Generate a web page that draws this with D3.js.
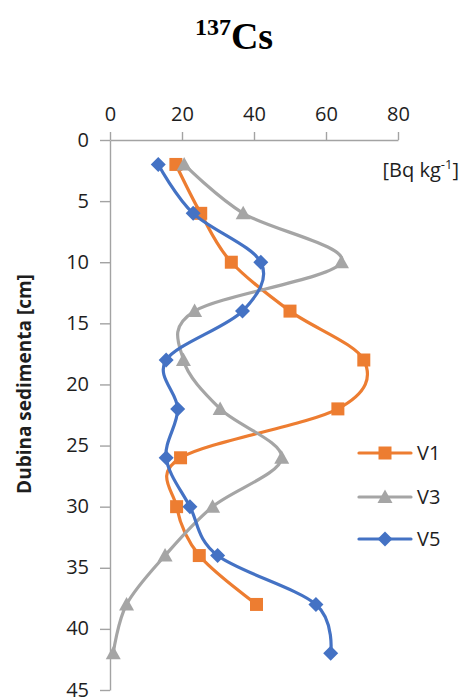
<!DOCTYPE html>
<html><head><meta charset="utf-8">
<script src="https://cdn.jsdelivr.net/npm/d3@7/dist/d3.min.js"></script>
<style>
html,body{margin:0;padding:0;background:#fff;}
svg{display:block;}
</style></head>
<body><svg id="chart" width="462" height="698"></svg>
<script>
const depths = [2, 6, 10, 14, 18, 22, 26, 30, 34, 38, 42];
const v1 = [18.3, 25.2, 33.7, 50, 70.5, 63.3, 19.6, 18.5, 24.8, 40.7, null];
const v3 = [20.6, 37, 64.3, 23.5, 20.4, 30.6, 47.7, 28.5, 15.3, 4.6, 0.9];
const v5 = [13.4, 23.1, 41.9, 36.8, 15.6, 18.8, 15.6, 22.2, 29.9, 57.2, 61.3];
const seriesNames = ["V1", "V3", "V5"];
const seriesColors = ["#ED7D31", "#A5A5A5", "#4472C4"];
const seriesMarkers = ["square", "triangle", "diamond"];
const xTicks = [0, 20, 40, 60, 80];
const yTicks = [0, 5, 10, 15, 20, 25, 30, 35, 40, 45];

const svg = d3.select("#chart");
const x = d3.scaleLinear().domain([0, 80]).range([110, 398]);
const y = d3.scaleLinear().domain([0, 45]).range([140, 690]);
const axisColor = "#a3a3a3";
const textColor = "#1e1e1e";
const font = "'Open Sans', 'DejaVu Sans', sans-serif";

// Title
const title = svg.append("text").attr("x", 234).attr("y", 49).attr("text-anchor", "middle")
  .attr("font-family", "'Liberation Serif', 'Times New Roman', serif").attr("font-weight", "bold").attr("fill", "#000");
title.append("tspan").attr("font-size", 24).attr("dy", -14).text("137");
title.append("tspan").attr("font-size", 38).attr("dy", 14).text("Cs");

// X axis (top)
const xAxis = svg.append("g").attr("transform", `translate(0,${y(0)})`)
  .call(d3.axisTop(x).tickValues(xTicks).tickSizeInner(8).tickSizeOuter(0).tickPadding(11));
// Y axis
const yAxis = svg.append("g").attr("transform", `translate(${x(0)},0)`)
  .call(d3.axisLeft(y).tickValues(yTicks).tickSizeInner(10).tickSizeOuter(0).tickPadding(11));
[xAxis, yAxis].forEach(g => {
  g.select(".domain").attr("stroke", axisColor).attr("stroke-width", 1.4);
  g.selectAll(".tick line").attr("stroke", axisColor).attr("stroke-width", 1.4);
  g.selectAll(".tick text").attr("font-family", font).attr("font-size", 20).attr("fill", textColor);
});
yAxis.selectAll(".tick text").attr("dy", "0.3em");

// Y axis title
svg.append("text").attr("transform", `translate(31,384) rotate(-90)`).attr("text-anchor", "middle")
  .attr("font-family", font).attr("font-weight", "bold").attr("font-size", 19).attr("fill", textColor)
  .text("Dubina sedimenta [cm]");

// Unit label
const unit = svg.append("text").attr("x", 459).attr("y", 177).attr("text-anchor", "end")
  .attr("font-family", font).attr("font-size", 20).attr("fill", textColor);
unit.append("tspan").text("[Bq kg");
unit.append("tspan").attr("font-size", 13).attr("dy", -8).text("-1");
unit.append("tspan").attr("dy", 8).text("]");

function markerPath(type) {
  if (type === "square") return "M-6.5,-6.5H6.5V6.5H-6.5Z";
  if (type === "triangle") return "M0,-7.5L7.5,6L-7.5,6Z";
  return "M0,-7.5L7.5,0L0,7.5L-7.5,0Z";
}

const allSeries = [v1, v3, v5];
const line = d3.line().x(d => x(d.v)).y(d => y(d.d)).curve(d3.curveCatmullRom.alpha(0));

allSeries.forEach((vals, i) => {
  const pts = depths.map((d, j) => ({d, v: vals[j]})).filter(p => p.v !== null);
  const g = svg.append("g");
  g.append("path").attr("d", line(pts)).attr("fill", "none")
    .attr("stroke", seriesColors[i]).attr("stroke-width", 3.2).attr("stroke-linejoin", "round").attr("stroke-linecap", "round");
  g.selectAll("path.m").data(pts).enter().append("path").attr("class", "m")
    .attr("transform", p => `translate(${x(p.v)},${y(p.d)})`)
    .attr("d", markerPath(seriesMarkers[i])).attr("fill", seriesColors[i]);
});

// Legend
const legendY = [453, 497, 539];
seriesNames.forEach((name, i) => {
  const g = svg.append("g").attr("transform", `translate(0,${legendY[i]})`);
  g.append("line").attr("x1", 359).attr("x2", 411).attr("y1", 0).attr("y2", 0)
    .attr("stroke", seriesColors[i]).attr("stroke-width", 3.2).attr("stroke-linecap", "round");
  g.append("path").attr("transform", "translate(385,0)").attr("d", markerPath(seriesMarkers[i])).attr("fill", seriesColors[i]);
  g.append("text").attr("x", 417).attr("y", 7).attr("font-family", font).attr("font-size", 20)
    .attr("fill", textColor).text(name);
});
</script></body></html>
